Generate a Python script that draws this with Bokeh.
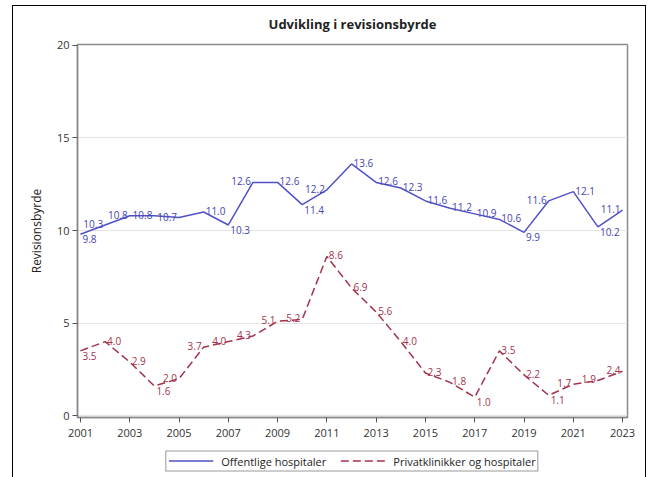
from bokeh.plotting import figure
from bokeh.layouts import column
from bokeh.models import ColumnDataSource, Range1d, FixedTicker, Legend, LegendItem, Title, InlineStyleSheet
from bokeh.core.properties import value
from bokeh.embed import file_html
from bokeh.resources import INLINE

years = list(range(2001, 2024))
offentlige = [9.8, 10.3, 10.8, 10.8, 10.7, 11.0, 10.3, 12.6, 12.6, 11.4, 12.2, 13.6,
              12.6, 12.3, 11.6, 11.2, 10.9, 10.6, 9.9, 11.6, 12.1, 10.2, 11.1]
privat = [3.5, 4.0, 2.9, 1.6, 2.0, 3.7, 4.0, 4.3, 5.1, 5.2, 8.6, 6.9,
          5.6, 4.0, 2.3, 1.8, 1.0, 3.5, 2.2, 1.1, 1.7, 1.9, 2.4]
series_names = ["Offentlige hospitaler", "Privatklinikker og hospitaler"]
x_ticks = list(range(2001, 2024, 2))
y_ticks = [0, 5, 10, 15, 20]

# label placement around each point (style only)
blue_pos = ["SE", "NW", "NW", "NW", "NW", "NE", "SE", "NW", "NE", "SE", "NW", "NE",
            "NE", "NE", "NE", "NE", "NE", "NE", "SE", "NW", "NE", "SE", "NW"]
red_pos = ["SE", "NE", "NE", "SE", "NW", "NW", "NW", "NW", "NW", "NW", "NE", "NE",
           "NE", "NE", "NE", "NE", "SE", "NE", "NE", "SE", "NW", "NW", "NW"]

FONT = "Open Sans"
BLUE = "#5050c8"
BLUE_T = "#4444b4"
RED = "#a3324c"
RED_T = "#a3324c"


def label_source(xs, ys, pos):
    align = {"NE": "left", "NW": "right", "SE": "left", "SW": "right"}
    base = {"NE": "alphabetic", "NW": "alphabetic", "SE": "top", "SW": "top"}
    xo = {"NE": 2, "NW": -2, "SE": 2, "SW": -2}
    yo = {"NE": -1, "NW": -1, "SE": 1, "SW": 1}
    return ColumnDataSource(dict(
        x=xs, y=ys, text=[f"{v:.1f}" for v in ys],
        align=[align[p] for p in pos], base=[base[p] for p in pos],
        xo=[xo[p] for p in pos], yo=[yo[p] for p in pos]))


p = figure(width=654, height=444, output_backend="svg", toolbar_location=None,
           x_range=Range1d(2000.88, 2023.2), y_range=Range1d(-0.1, 20.05),
           min_border_left=77, min_border_right=27, min_border_top=42, min_border_bottom=27)

p.title = Title(text="Udvikling i revisionsbyrde", align="center", text_font=FONT,
                text_font_size="13px", text_font_style="bold", text_color="#222222", standoff=24)

p.background_fill_color = "white"
p.border_fill_color = "white"
p.outline_line_color = "#8a8a8a"
p.outline_line_width = 1.5

p.xgrid.visible = False
p.ygrid.grid_line_color = "#e4e4e4"
p.ygrid.ticker = FixedTicker(ticks=y_ticks)

for ax in (p.xaxis[0], p.yaxis[0]):
    ax.axis_line_color = "#8a8a8a"
    ax.axis_line_width = 1.5
    ax.major_tick_line_color = "#555555"
    ax.major_tick_out = 5
    ax.major_tick_in = 0
    ax.minor_tick_line_color = None
    ax.major_label_text_font = FONT
    ax.major_label_text_font_size = "11px"
    ax.major_label_text_color = "#333333"
    ax.major_label_standoff = 3

p.xaxis.major_label_standoff = 6
p.xaxis.ticker = FixedTicker(ticks=x_ticks)
p.yaxis.ticker = FixedTicker(ticks=y_ticks)
p.yaxis.axis_label = "Revisionsbyrde"
p.yaxis.axis_label_text_font = FONT
p.yaxis.axis_label_text_font_size = "12px"
p.yaxis.axis_label_text_font_style = "normal"
p.yaxis.axis_label_text_color = "#222222"
p.yaxis.axis_label_standoff = 9

p.line(years, offentlige, line_color=BLUE, line_width=1.5)
p.line(years, privat, line_color=RED, line_width=1.5, line_dash="8 4")

for src, col in ((label_source(years, offentlige, blue_pos), BLUE_T),
                 (label_source(years, privat, red_pos), RED_T)):
    p.text(x="x", y="y", text="text", source=src, text_align="align", text_baseline="base",
           x_offset="xo", y_offset="yo", text_color=col, text_font=value(FONT),
           text_font_size="10px")

p.stylesheets = [InlineStyleSheet(css="""
:host::after { content: ''; position: absolute; left: 12px; top: 5px; width: 634px;
  height: 472px; box-sizing: border-box; border: 1px solid #000; border-bottom: none;
  pointer-events: none; z-index: 10; }
""")]

# legend strip below the chart (series drawn outside its visible range, only the legend shows)
lg = figure(width=654, height=33, output_backend="svg", toolbar_location=None,
            x_axis_type=None, y_axis_type=None, x_range=Range1d(0, 1), y_range=Range1d(0, 1),
            min_border_left=0, min_border_right=0, min_border_top=0, min_border_bottom=0)
lg.outline_line_color = None
lg.xgrid.visible = False
lg.ygrid.visible = False
lg.background_fill_color = "white"
lg.border_fill_color = "white"
k1 = lg.line(years, offentlige, line_color=BLUE, line_width=1.5)
k2 = lg.line(years, privat, line_color=RED, line_width=1.5, line_dash="8 4")
legend = Legend(items=[LegendItem(label=series_names[0], renderers=[k1]),
                       LegendItem(label=series_names[1], renderers=[k2])],
                orientation="horizontal", location="center", padding=2, spacing=14,
                glyph_width=45, glyph_height=10, label_height=12, label_standoff=8, margin=0,
                label_text_font=FONT, label_text_font_size="11px", label_text_color="#222222",
                border_line_color="#333333", border_line_width=1, background_fill_alpha=1)
lg.add_layout(legend, "center")

layout = column(p, lg, spacing=0)
open("out.html", "w").write(file_html(layout, INLINE))
